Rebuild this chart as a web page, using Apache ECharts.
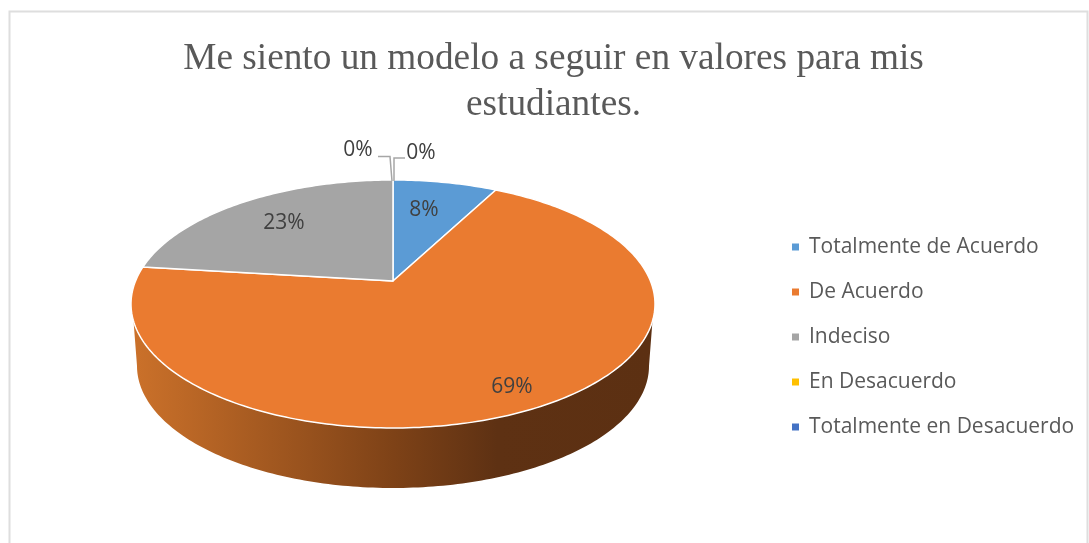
<!DOCTYPE html>
<html><head><meta charset="utf-8">
<style>html,body{margin:0;padding:0;background:#fff}#c{width:1089px;height:543px}</style>
<script src="https://cdn.jsdelivr.net/npm/echarts@6/dist/echarts.min.js"></script>
</head><body><div id="c"></div>
<script>
const titleText = 'Me siento un modelo a seguir en valores para mis\nestudiantes.';
const categories = ['Totalmente de Acuerdo','De Acuerdo','Indeciso','En Desacuerdo','Totalmente en Desacuerdo'];
const values = [1, 9, 3, 0, 0];
const colors = ['#5b9bd5','#ea7b30','#a5a5a5','#ffc000','#4472c4'];
// label anchors (pixels) for each slice's percentage
const labelAt = [[424,210],[512,387],[284,223],[358,150],[421,153]];
// leader lines for the zero-size slices
const leaders = [null,null,null,[[378,156.5],[390,156.5],[392,181]],[[394,181],[394,158],[405,158]]];

const top3d = {cx:393, cy:304, rx:262, ry:124, apex:0.185};
const low3d = {cx:393, cy:366, rx:256, ry:122};
const tangent = 8*Math.PI/180;
const total = values.reduce((a,b)=>a+b,0);

function project(theta){
  const u=Math.sin(theta), v=Math.cos(theta), a=top3d.apex, d=1+a*v;
  return [u*Math.sqrt(1-a*a)/d, (v+a)/d];
}
function onTop(theta){
  const p=project(theta);
  return [top3d.cx+top3d.rx*p[0], top3d.cy-top3d.ry*p[1]];
}
function apexPoint(){ return [top3d.cx, top3d.cy-top3d.ry*top3d.apex]; }
function ellipseParam(theta){
  const p=project(theta); let f=Math.atan2(-p[1],p[0]);
  if(f<-Math.PI/2-1e-9) f+=2*Math.PI;
  return f;
}
function sideWall(t0,t1,fill){
  const a=Math.max(ellipseParam(t0),tangent), b=Math.min(ellipseParam(t1),Math.PI-tangent);
  if(b<=a) return null;
  const n=160, pts=[], low=[];
  for(let i=0;i<=n;i++){
    const f=a+(b-a)*i/n;
    pts.push([top3d.cx+top3d.rx*Math.cos(f), top3d.cy+top3d.ry*Math.sin(f)]);
    const g=(f-tangent)/(Math.PI-2*tangent)*Math.PI;
    low.push([low3d.cx+low3d.rx*Math.cos(g), low3d.cy+low3d.ry*Math.sin(g)]);
  }
  return {type:'polygon',shape:{points:pts.concat(low.reverse())},style:{fill}};
}
function renderSlice(idx){
  return function(params,api){
    const before=values.slice(0,idx).reduce((a,b)=>a+b,0);
    const t0=before/total*2*Math.PI, t1=(before+api.value(0))/total*2*Math.PI;
    const children=[], color=api.visual('color');
    if(t1>t0){
      const wall=sideWall(t0,t1,{type:'linear',x:133,y:0,x2:653,y2:0,global:true,colorStops:[
        {offset:0,color:'#cb712a'},{offset:0.5,color:'#7e4217'},{offset:0.7,color:'#5e3113'},{offset:1,color:'#5c3012'}]});
      if(wall) children.push(wall);
      const pts=[apexPoint()], n=Math.max(2,Math.ceil((t1-t0)/(2*Math.PI)*360));
      for(let i=0;i<=n;i++) pts.push(onTop(t0+(t1-t0)*i/n));
      children.push({type:'polygon',shape:{points:pts},style:{fill:color,stroke:'#ffffff',lineWidth:1.5,lineJoin:'round'}});
    }
    if(leaders[idx]) children.push({type:'polyline',shape:{points:leaders[idx]},style:{fill:null,stroke:'#a6a6a6',lineWidth:1.5}});
    children.push({type:'text',z2:50,style:{x:labelAt[idx][0],y:labelAt[idx][1],text:Math.round(api.value(0)/total*100)+'%',
      fill:'#404040',font:'21px "Open Sans"',align:'center',verticalAlign:'middle'}});
    return {type:'group',children};
  };
}
const chart=echarts.init(document.getElementById('c'),null,{renderer:'canvas'});
chart.setOption({
  animation:false,
  backgroundColor:'#ffffff',
  title:{text:titleText,left:548.5,top:31,textAlign:'center',
    textStyle:{fontFamily:'"Liberation Serif"',fontSize:37.3,fontWeight:'normal',color:'#595959',lineHeight:46}},
  legend:{orient:'vertical',left:787,top:230,icon:'rect',itemWidth:7,itemHeight:7,itemGap:21,
    data:categories,selectedMode:false,
    textStyle:{fontFamily:'"Open Sans"',fontSize:21,color:'#595959',padding:[0,0,0,5],lineHeight:24}},
  graphic:[{type:'polyline',silent:true,shape:{points:[[9.5,543],[9.5,11.5],[1087.5,11.5],[1087.5,543]]},
    style:{fill:null,stroke:'#dedede',lineWidth:2}}],
  series:categories.map((name,i)=>({
    type:'custom',name,coordinateSystem:'none',
    itemStyle:{color:colors[i]},
    data:[[values[i]]],
    renderItem:renderSlice(i),
    silent:true
  }))
});
</script></body></html>
